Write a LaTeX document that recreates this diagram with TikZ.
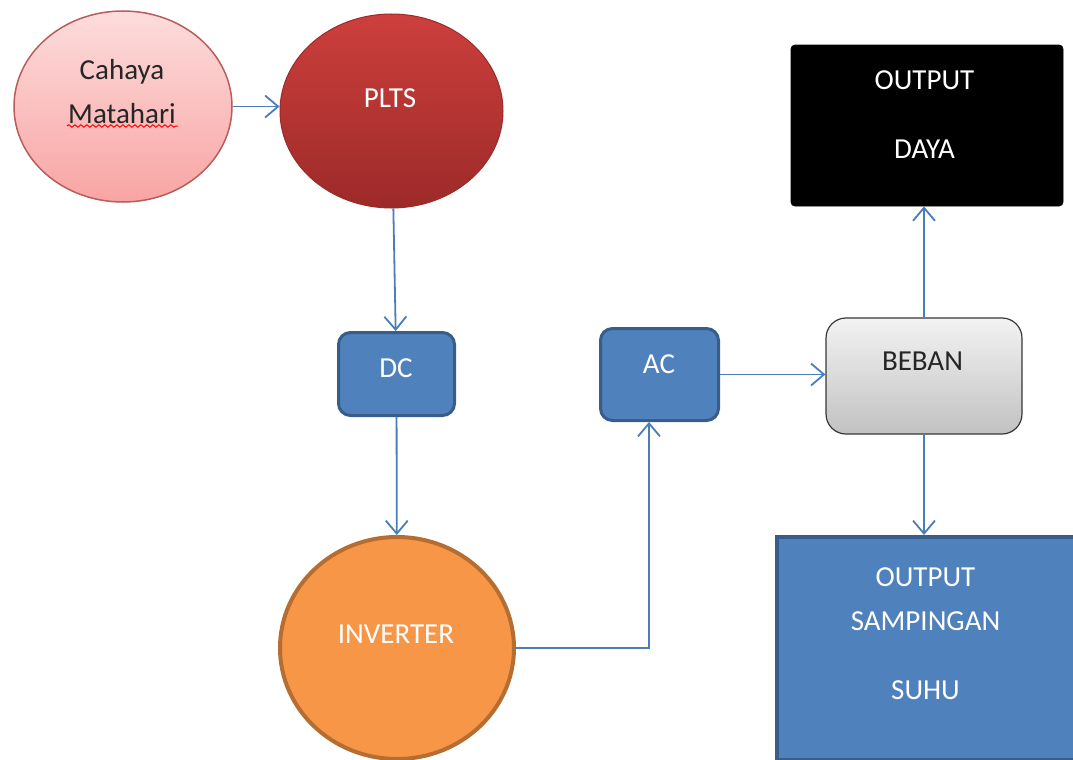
\documentclass[tikz,border=0pt]{standalone}
\usepackage{fontspec}
\setmainfont{Carlito}
\usetikzlibrary{shapes.geometric,arrows.meta,decorations.pathmorphing}

\definecolor{linkblue}{HTML}{4A7EBB}
\definecolor{boxblue}{HTML}{4F81BD}
\definecolor{boxedge}{HTML}{385D8A}
\definecolor{sunTop}{HTML}{FDDCDC}
\definecolor{sunBot}{HTML}{F8A5A4}
\definecolor{sunEdge}{HTML}{B95C5B}
\definecolor{pltsTop}{HTML}{CD3F3C}
\definecolor{pltsBot}{HTML}{9C2A29}
\definecolor{invFill}{HTML}{F79646}
\definecolor{invEdge}{HTML}{B66D31}

\begin{document}
\begin{tikzpicture}[x=0.5pt,y=-0.5pt,
>={Straight Barb[length=6.5pt,width=11pt]},
blob/.style={ellipse,inner sep=0pt},
block/.style={rounded corners=6pt,fill=boxblue,draw=boxedge,
  line width=1.5pt,inner sep=0pt},
txt/.style={align=center,text=white,
  font=\fontsize{14.5pt}{22pt}\selectfont},
link/.style={draw=linkblue,line width=0.9pt}
]
\useasboundingbox (0,0) rectangle (1073,760);

\node (sun) [blob,minimum width=109pt,minimum height=95.5pt,
  top color=sunTop,bottom color=sunBot,draw=sunEdge,line width=0.75pt] at (123,106.5) {};
\node (plts) [blob,minimum width=111.5pt,minimum height=97pt,
  top color=pltsTop,bottom color=pltsBot,draw=pltsBot,line width=0.5pt] at (391.5,111) {};
\node (dc) [block,minimum width=58pt,minimum height=41.5pt] at (396.5,374) {};
\node (ac) [block,minimum width=59pt,minimum height=46pt] at (659.5,374.5) {};
\node (inv) [blob,minimum width=117pt,minimum height=111pt,
  fill=invFill,draw=invEdge,line width=2pt] at (397,648) {};
\node (beban) [rounded corners=10pt,minimum width=98pt,minimum height=58pt,
  top color=black!5,bottom color=black!24,draw=black!78,line width=0.6pt] at (924,376) {};
\node (daya) [fill=black,draw=black,rounded corners=2pt,
  minimum width=136pt,minimum height=80.5pt] at (927,125.5) {};
\node (samping) [fill=boxblue,draw=boxedge,line width=2pt,
  minimum width=149pt,minimum height=111.5pt] at (926,648.5) {};

% texts
\node (sun-t) [txt,text=black!85] at (122,92) {Cahaya\\Matahari};
\draw[red,line width=0.5pt,decorate,
  decoration={snake,amplitude=0.6pt,segment length=3pt}] (67,126) -- (178,126);
\node (plts-t) [txt] at (390,98.5) {PLTS};
\node (dc-t) [txt] at (396,368) {DC};
\node (ac-t) [txt] at (659,364) {AC};
\node (inv-t) [txt] at (396,634.5) {INVERTER};
\node (beban-t) [txt,text=black!85] at (922.5,361) {BEBAN};
\node (daya-t) [txt] at (924.5,114.5) {OUTPUT\\[12.5pt]DAYA};
\node (samping-t) [txt] at (925.5,633.5) {OUTPUT\\SAMPINGAN\\[12.5pt]SUHU};

\draw [link,->] (sun.east) -- (sun.east -| plts.west);
\draw [link,->] (plts) -- (dc);
\draw [link,->] (dc) -- (inv);
\draw [link,->] (inv.east) -| ([xshift=-5.25pt]ac.south);
\draw [link,->] (ac.east) -- (ac.east -| beban.west);
\draw [link,->] (beban.north) -- (beban.north |- daya.south);
\draw [link,->] (beban.south) -- (beban.south |- samping.north);

\end{tikzpicture}
\end{document}
